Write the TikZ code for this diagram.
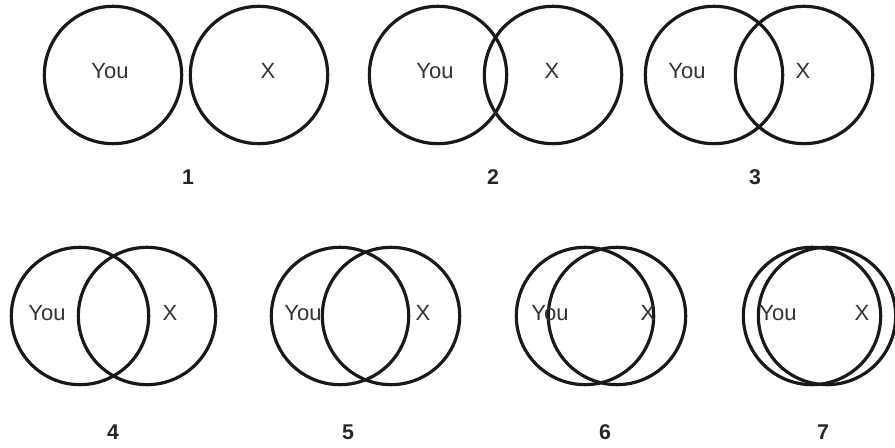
\documentclass[tikz,border=0pt]{standalone}
\usepackage{fontspec}
\setmainfont{Liberation Sans}
\begin{document}
\begin{tikzpicture}[x=0.75pt,y=-0.75pt,
  ring/.style={circle,draw=black!90,line width=2.4pt,minimum size=103pt,inner sep=0pt},
  lbl/.style={font=\fontsize{16.5}{18}\selectfont,text=black!80,inner sep=0pt},
  num/.style={font=\fontsize{16}{18}\selectfont\bfseries,text=black!85,inner sep=0pt}]
\useasboundingbox (0,0) rectangle (895,448);
% row 1
\node[ring] (a1) at (113,75) {};
\node[ring] (b1) at (259,75) {};
\node[ring] (a2) at (438,75) {};
\node[ring] (b2) at (553,75) {};
\node[ring] (a3) at (714,75) {};
\node[ring] (b3) at (804,75) {};
% row 2
\node[ring] (a4) at (80,316) {};
\node[ring] (b4) at (147,316) {};
\node[ring] (a5) at (340,316) {};
\node[ring] (b5) at (391,316) {};
\node[ring] (a6) at (585,316) {};
\node[ring] (b6) at (617,316) {};
\node[ring] (a7) at (812,316) {};
\node[ring] (b7) at (827,316) {};
% texts
\node[lbl] (y1) at (110,71) {You};
\node[lbl] (x1) at (268,71) {X};
\node[lbl] (y2) at (435,71) {You};
\node[lbl] (x2) at (552,71) {X};
\node[lbl] (y3) at (687,71) {You};
\node[lbl] (x3) at (803,71) {X};
\node[lbl] (y4) at (47,313) {You};
\node[lbl] (x4) at (170,313) {X};
\node[lbl] (y5) at (303,313) {You};
\node[lbl] (x5) at (423,313) {X};
\node[lbl] (y6) at (550,313) {You};
\node[lbl] (x6) at (648,313) {X};
\node[lbl] (y7) at (778,313) {You};
\node[lbl] (x7) at (862,313) {X};
% numbers
\node[num] (n1) at (188,177) {1};
\node[num] (n2) at (493,177) {2};
\node[num] (n3) at (755,177) {3};
\node[num] (n4) at (113,432) {4};
\node[num] (n5) at (348,432) {5};
\node[num] (n6) at (605,432) {6};
\node[num] (n7) at (823,432) {7};
\end{tikzpicture}
\end{document}
